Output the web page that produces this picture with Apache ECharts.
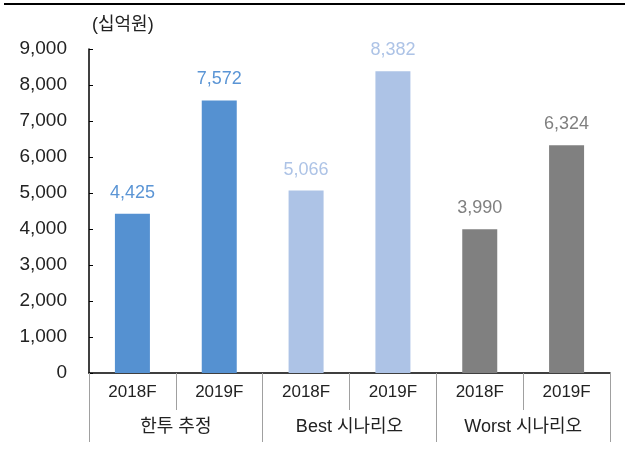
<!DOCTYPE html>
<html>
<head>
<meta charset="utf-8">
<script src="https://cdn.jsdelivr.net/npm/echarts@6/dist/echarts.min.js"></script>
<style>
  html, body { margin: 0; padding: 0; background: #fff; }
  #chart { width: 629px; height: 452px; }
</style>
</head>
<body>
<div id="chart"></div>
<script>
const years = ['2018F', '2019F', '2018F', '2019F', '2018F', '2019F'];
const groups = ['한투 추정', 'Best 시나리오', 'Worst 시나리오'];
const values = [4425, 7572, 5066, 8382, 3990, 6324];
const barColors = ['#5591d1', '#5591d1', '#adc3e6', '#adc3e6', '#808080', '#808080'];
const labelColors = ['#5b95d5', '#5b95d5', '#adc3e6', '#adc3e6', '#808080', '#808080'];

const FONT = '"Liberation Sans", Arial, "Noto Sans CJK KR", sans-serif';

const chart = echarts.init(document.getElementById('chart'));

const option = {
  animation: false,
  textStyle: { fontFamily: FONT },
  grid: { left: 89, right: 19, top: 49, bottom: 79 },
  graphic: [
    { type: 'rect', shape: { x: 4, y: 3, width: 621, height: 2 }, style: { fill: '#000' } },
    {
      type: 'text', left: 92, top: 16,
      style: { text: '(십억원)', font: '18px ' + FONT, fill: '#222' }
    }
  ],
  xAxis: [
    {
      type: 'category',
      data: years,
      position: 'bottom',
      axisLine: { lineStyle: { color: '#000', width: 1.5 } },
      axisTick: { show: true, interval: 0, length: 37, lineStyle: { color: '#a0a0a0' } },
      axisLabel: { interval: 0, color: '#222', fontSize: 17, margin: 11 }
    },
    {
      type: 'category',
      data: groups,
      position: 'bottom',
      axisLine: { show: false },
      axisTick: { show: true, interval: 0, length: 69, lineStyle: { color: '#a0a0a0' } },
      axisLabel: { interval: 0, color: '#222', fontSize: 18, margin: 45 }
    },
    {
      type: 'category',
      data: years,
      position: 'bottom',
      axisLine: { show: false },
      axisTick: { show: true, alignWithLabel: true, inside: true, length: 4, lineStyle: { color: '#000' } },
      axisLabel: { show: false }
    }
  ],
  yAxis: {
    type: 'value',
    min: 0,
    max: 9000,
    interval: 1000,
    axisLine: { show: true, lineStyle: { color: '#000', width: 1.5 } },
    axisTick: { show: true, inside: true, length: 4, lineStyle: { color: '#000' } },
    splitLine: { show: false },
    axisLabel: {
      color: '#222',
      fontSize: 19,
      margin: 22,
      formatter: v => v.toLocaleString('en-US')
    }
  },
  series: [{
    type: 'bar',
    xAxisIndex: 0,
    barWidth: 35,
    data: values.map((v, i) => ({
      value: v,
      itemStyle: { color: barColors[i] },
      label: { color: labelColors[i] }
    })),
    label: {
      show: true,
      position: 'top',
      distance: 12,
      fontSize: 18,
      formatter: p => p.value.toLocaleString('en-US')
    }
  }]
};

chart.setOption(option);
</script>
</body>
</html>
